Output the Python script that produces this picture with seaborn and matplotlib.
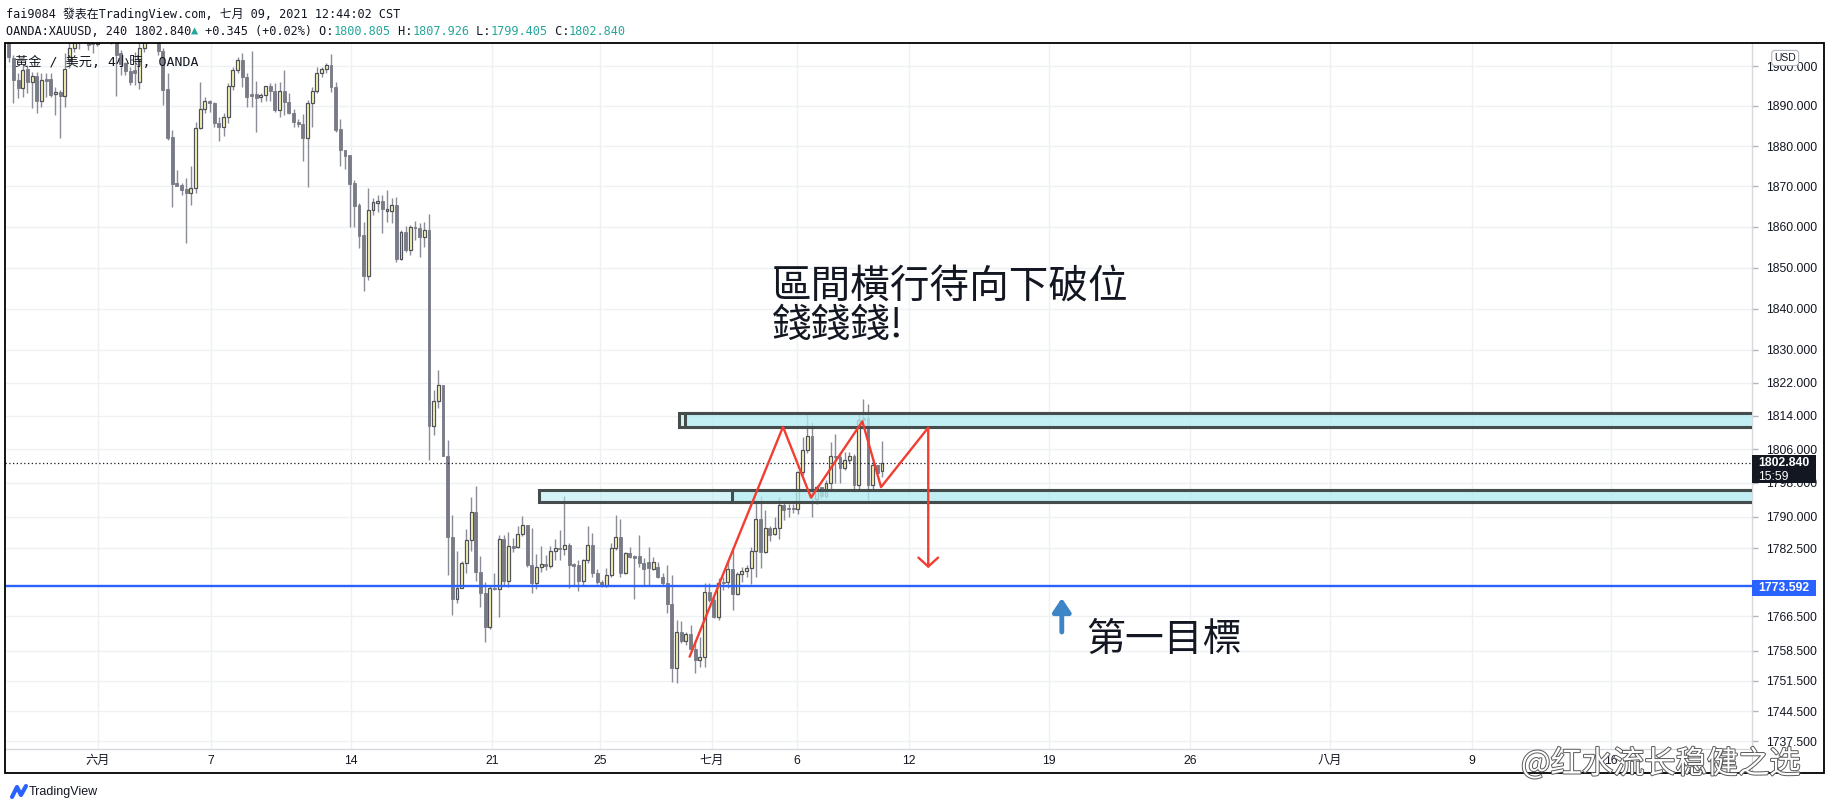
import numpy as np
import pandas as pd
import matplotlib
matplotlib.use('Agg')
import matplotlib.pyplot as plt
import matplotlib.patheffects as pe
from matplotlib.patches import Rectangle
from matplotlib.lines import Line2D
from matplotlib.ticker import FixedLocator, NullLocator, FormatStrFormatter
import seaborn as sns

# XAUUSD 4h bars (bar 0 = late May 2021, last bar = 9 Jul)
opens = [1906.0, 1902.1, 1896.5, 1894.4, 1899.2, 1896.1, 1897.5, 1891.3, 1896.8, 1896.8,
         1892.9, 1893.4, 1892.6, 1901.5, 1904.6, 1907.0, 1908.5, 1910.5, 1907.5, 1905.5,
         1911.0, 1914.0, 1910.5, 1908.0, 1903.4, 1900.7, 1898.9, 1899.0, 1896.1, 1904.5,
         1907.5, 1910.0, 1908.0, 1903.7, 1894.2, 1882.3, 1870.9, 1870.3, 1869.3, 1868.3,
         1869.5, 1884.4, 1889.2, 1891.2, 1890.7, 1885.7, 1884.7, 1887.2, 1895.0, 1899.0,
         1901.5, 1897.2, 1892.9, 1892.9, 1892.2, 1892.8, 1894.9, 1893.8, 1889.0, 1893.8,
         1891.1, 1888.3, 1886.1, 1885.4, 1882.1, 1890.8, 1893.8, 1898.2, 1899.4, 1900.3,
         1894.8, 1884.2, 1879.0, 1877.8, 1870.8, 1865.4, 1858.0, 1847.9, 1864.2, 1866.0,
         1866.4, 1863.8, 1863.8, 1865.4, 1852.2, 1858.8, 1854.4, 1860.0, 1859.8, 1857.6,
         1859.2, 1811.7, 1817.6, 1821.4, 1804.5, 1785.2, 1770.5, 1773.2, 1779.0, 1784.5,
         1791.1, 1777.0, 1771.9, 1764.0, 1773.2, 1772.9, 1784.7, 1774.9, 1783.0, 1782.8,
         1785.9, 1788.0, 1778.6, 1774.4, 1778.0, 1778.8, 1778.4, 1781.9, 1782.5, 1782.3,
         1783.2, 1778.8, 1778.6, 1774.9, 1779.8, 1783.3, 1776.6, 1774.6, 1773.6, 1776.2,
         1782.5, 1785.1, 1776.6, 1781.3, 1780.8, 1780.7, 1779.1, 1779.3, 1777.6, 1778.2,
         1775.7, 1774.4, 1769.3, 1754.4, 1762.8, 1760.8, 1762.3, 1758.8, 1756.4, 1757.0,
         1772.2, 1770.4, 1766.3, 1774.6, 1774.5, 1777.6, 1771.7, 1776.4, 1777.2, 1777.8,
         1781.9, 1789.4, 1781.7, 1787.2, 1785.8, 1787.2, 1792.7, 1792.0, 1792.0, 1791.7,
         1800.7, 1805.9, 1809.2, 1794.1, 1797.0, 1794.8, 1797.9, 1804.4, 1804.1, 1801.5,
         1803.5, 1804.4, 1797.5, 1813.4, 1813.4, 1797.5, 1802.3, 1800.805]
highs = [1908.5, 1902.8, 1898.3, 1900.3, 1900.3, 1898.6, 1898.6, 1898.3, 1898.4, 1898.3,
         1894.8, 1894.0, 1903.2, 1906.8, 1909.0, 1910.0, 1912.5, 1912.0, 1910.0, 1913.0,
         1916.0, 1916.5, 1913.0, 1913.0, 1904.1, 1901.1, 1899.9, 1903.6, 1906.0, 1909.5,
         1912.0, 1913.0, 1909.5, 1904.6, 1898.3, 1884.0, 1874.0, 1870.8, 1872.1, 1875.0,
         1886.1, 1896.0, 1892.3, 1891.5, 1891.1, 1887.2, 1888.3, 1895.7, 1899.9, 1902.2,
         1903.2, 1898.4, 1903.8, 1896.3, 1893.3, 1895.0, 1895.7, 1895.7, 1896.0, 1899.0,
         1893.2, 1889.2, 1886.7, 1888.0, 1891.5, 1894.8, 1899.9, 1899.9, 1900.7, 1903.0,
         1896.1, 1886.8, 1879.0, 1877.8, 1871.6, 1866.0, 1861.3, 1869.5, 1867.0, 1867.9,
         1867.9, 1869.1, 1867.0, 1867.4, 1859.2, 1860.3, 1860.4, 1861.5, 1860.9, 1861.3,
         1863.2, 1820.3, 1825.1, 1821.4, 1808.2, 1790.4, 1781.9, 1779.5, 1787.1, 1794.7,
         1797.3, 1780.7, 1774.6, 1773.6, 1776.7, 1785.7, 1785.7, 1786.4, 1784.9, 1787.7,
         1790.2, 1788.0, 1787.2, 1781.2, 1783.0, 1780.9, 1783.0, 1784.6, 1786.8, 1794.9,
         1783.8, 1779.0, 1779.8, 1779.9, 1787.8, 1786.0, 1777.6, 1775.0, 1777.8, 1783.7,
         1790.4, 1789.4, 1781.7, 1782.8, 1780.9, 1785.7, 1780.1, 1782.8, 1780.5, 1779.3,
         1776.6, 1778.6, 1776.2, 1765.7, 1765.5, 1762.9, 1764.5, 1761.0, 1761.8, 1774.3,
         1774.3, 1771.1, 1775.4, 1775.8, 1779.8, 1782.8, 1777.0, 1778.2, 1778.6, 1782.8,
         1793.9, 1794.9, 1791.6, 1787.8, 1790.0, 1794.7, 1793.5, 1793.1, 1793.1, 1800.9,
         1809.0, 1815.0, 1812.6, 1797.5, 1797.1, 1798.7, 1807.8, 1809.8, 1805.4, 1805.4,
         1805.4, 1804.9, 1815.0, 1818.2, 1816.9, 1803.6, 1802.3, 1807.926]
lows = [1901.0, 1890.8, 1892.0, 1892.3, 1893.3, 1889.5, 1888.2, 1889.8, 1892.3, 1892.3,
        1887.7, 1882.0, 1889.8, 1899.5, 1903.6, 1904.4, 1906.0, 1904.1, 1903.3, 1905.0,
        1908.0, 1909.0, 1905.5, 1892.4, 1897.8, 1897.8, 1895.3, 1895.3, 1894.2, 1903.5,
        1906.0, 1906.5, 1902.8, 1890.3, 1881.5, 1864.9, 1870.0, 1867.9, 1856.0, 1865.4,
        1868.3, 1884.2, 1888.2, 1888.6, 1884.7, 1881.3, 1882.5, 1885.8, 1894.0, 1898.2,
        1894.8, 1889.7, 1889.8, 1883.6, 1891.1, 1891.3, 1891.3, 1888.6, 1887.2, 1887.7,
        1888.0, 1884.8, 1884.7, 1876.4, 1869.8, 1884.7, 1893.3, 1897.2, 1898.2, 1893.6,
        1883.6, 1875.0, 1874.2, 1860.0, 1860.0, 1854.7, 1844.3, 1847.0, 1862.9, 1863.7,
        1858.6, 1861.3, 1860.9, 1851.4, 1851.9, 1853.9, 1853.1, 1856.8, 1852.7, 1855.0,
        1803.5, 1809.4, 1815.9, 1804.3, 1776.1, 1766.8, 1769.6, 1773.2, 1776.7, 1781.9,
        1774.8, 1768.7, 1760.6, 1763.6, 1772.7, 1766.4, 1773.8, 1773.4, 1781.7, 1782.5,
        1785.3, 1778.2, 1772.1, 1772.9, 1777.0, 1777.4, 1777.8, 1779.8, 1779.8, 1780.9,
        1773.2, 1773.9, 1772.5, 1773.6, 1779.1, 1775.8, 1774.1, 1773.4, 1773.4, 1775.7,
        1782.1, 1775.8, 1776.4, 1780.1, 1770.6, 1778.2, 1773.6, 1773.6, 1777.4, 1775.4,
        1773.6, 1767.4, 1751.3, 1751.1, 1760.2, 1759.8, 1758.7, 1753.3, 1754.8, 1754.7,
        1769.9, 1766.1, 1765.7, 1772.7, 1773.1, 1768.0, 1771.5, 1774.6, 1775.8, 1774.1,
        1775.8, 1777.8, 1781.5, 1784.3, 1785.6, 1784.6, 1789.2, 1789.8, 1790.8, 1790.6,
        1799.9, 1805.2, 1790.0, 1793.0, 1794.4, 1794.4, 1796.6, 1797.9, 1797.9, 1801.1,
        1802.7, 1795.9, 1796.3, 1812.6, 1793.9, 1796.3, 1800.3, 1799.405]
closes = [1902.3, 1896.5, 1894.4, 1899.0, 1896.1, 1897.5, 1891.3, 1896.5, 1896.3, 1892.8,
          1893.4, 1892.6, 1899.4, 1904.6, 1907.5, 1908.5, 1911.0, 1905.2, 1905.5, 1911.0,
          1914.0, 1910.5, 1911.5, 1902.8, 1900.5, 1898.9, 1896.1, 1898.4, 1904.5, 1907.5,
          1910.0, 1908.0, 1903.7, 1894.0, 1882.1, 1870.6, 1870.1, 1869.1, 1868.3, 1869.5,
          1884.4, 1889.2, 1891.2, 1890.7, 1885.7, 1884.7, 1887.2, 1895.0, 1899.0, 1901.5,
          1897.2, 1892.3, 1892.5, 1892.1, 1892.8, 1894.9, 1893.8, 1889.0, 1893.8, 1891.1,
          1888.3, 1885.9, 1885.4, 1882.1, 1890.8, 1893.8, 1898.2, 1899.4, 1900.3, 1894.8,
          1884.0, 1878.9, 1877.5, 1870.6, 1865.2, 1857.8, 1848.0, 1864.2, 1866.2, 1866.4,
          1864.3, 1864.4, 1865.4, 1852.2, 1858.8, 1854.4, 1859.9, 1859.8, 1857.6, 1859.2,
          1811.7, 1817.6, 1821.4, 1804.5, 1785.2, 1770.5, 1773.2, 1779.0, 1784.5, 1791.1,
          1777.0, 1771.9, 1764.0, 1773.2, 1772.9, 1784.7, 1774.9, 1783.0, 1782.5, 1785.9,
          1788.0, 1778.6, 1774.4, 1778.0, 1778.7, 1778.3, 1781.9, 1782.5, 1782.3, 1783.2,
          1778.6, 1778.3, 1774.9, 1779.8, 1783.3, 1776.6, 1774.6, 1773.6, 1776.2, 1782.5,
          1785.1, 1776.6, 1781.3, 1780.4, 1780.3, 1779.0, 1777.6, 1777.8, 1779.3, 1775.7,
          1774.4, 1769.3, 1754.4, 1762.8, 1760.8, 1762.3, 1758.8, 1756.4, 1757.0, 1772.2,
          1770.4, 1766.3, 1774.3, 1774.3, 1777.6, 1771.7, 1776.4, 1777.2, 1777.8, 1781.9,
          1789.4, 1781.7, 1787.2, 1785.6, 1787.2, 1792.7, 1791.6, 1791.7, 1791.7, 1800.7,
          1805.9, 1809.2, 1796.3, 1797.0, 1794.8, 1797.9, 1804.4, 1804.1, 1801.5, 1803.5,
          1804.4, 1797.5, 1813.0, 1813.0, 1797.5, 1802.3, 1800.4, 1802.84]

last_price = 1802.84
target_price = 1773.592

price_ticks = [1900, 1890, 1880, 1870, 1860, 1850, 1840, 1830, 1822, 1814, 1806, 1798,
               1790, 1782.5, 1766.5, 1758.5, 1751.5, 1744.5, 1737.5]
date_pos = [19.1, 43.3, 73.3, 103.5, 126.6, 150.6, 168.8, 192.8, 222.8, 252.9, 282.9, 313.3, 343.1]
date_labels = ['六月', '7', '14', '21', '25', '七月', '6', '12', '19', '26', '八月', '9', '16']

# drawings on the chart (bar index, price)
zone_hi = [143.5, 144.8, 1811.4, 1814.6]   # start, divider, bottom, top
zone_lo = [113.6, 154.8, 1793.5, 1796.3]
zig_x = [145.8, 165.8, 171.8, 182.8, 186.8, 196.9, 196.9]
zig_y = [1757.1, 1811.4, 1794.5, 1812.7, 1797.0, 1811.2, 1778.2]

W, H = 1828, 811
sns.set_theme(style='white')
plt.rcParams['font.family'] = ['Liberation Sans', 'Noto Sans CJK TC', 'DejaVu Sans']
plt.rcParams['axes.unicode_minus'] = False

fig = plt.figure(figsize=(W / 100, H / 100), dpi=100)
fig.patch.set_facecolor('white')
ax = fig.add_axes([5 / W, (H - 749) / H, 1747 / W, 706 / H])

bars = pd.DataFrame({'open': opens, 'high': highs, 'low': lows, 'close': closes})
bars['i'] = np.arange(len(bars))
bars['lo'] = bars[['open', 'close']].min(axis=1)
bars['body'] = (bars[['open', 'close']].max(axis=1) - bars['lo']).clip(lower=0.15)
up = bars[bars['close'] >= bars['open']]
dn = bars[bars['close'] < bars['open']]

ax.vlines(bars['i'], bars['low'], bars['high'], color='#8a8d96', lw=1, zorder=2)
ax.bar(dn['i'], dn['body'], bottom=dn['lo'], width=0.62, color='#787b86',
       edgecolor='#787b86', lw=0.6, zorder=3)
ax.bar(up['i'], up['body'], bottom=up['lo'], width=0.62, color='#fffab8',
       edgecolor='#4f525b', lw=0.9, zorder=3)

ax.set_yscale('log')
ax.set_ylim(1735.76, 1905.83)
ax.set_xlim(-0.8, 373.3)

# levels
ax.axhline(last_price, color='#131722', ls=(0, (1, 2)), lw=0.9, zorder=4)
ax.axhline(target_price, color='#2962ff', lw=1.7, zorder=4)

# zones
for z in (zone_hi, zone_lo):
    for x0 in (z[0], z[1]):
        ax.add_patch(Rectangle((x0, z[2]), 400 - x0, z[3] - z[2],
                               fc=(0.70, 0.92, 0.95, 0.55), ec='#454c4c', lw=2.2, zorder=5))

# red path + arrow
sns.lineplot(x=zig_x, y=zig_y, sort=False, estimator=None, color='#f23d32', lw=1.7,
             ax=ax, zorder=6)
ax.plot([zig_x[-1] - 2.1, zig_x[-1], zig_x[-1] + 2.1], [1780.3, zig_y[-1], 1780.3],
        color='#f23d32', lw=1.7, zorder=6)

# text notes
ax.text(163.4, 1845.25, '區間橫行待向下破位', fontsize=28.5, color='#131722',
        va='center', ha='left', family=['Noto Sans CJK TC'], zorder=7)
ax.text(163.4, 1835.74, '錢錢錢!', fontsize=28.5, color='#131722',
        va='center', ha='left', family=['Noto Sans CJK TC'], zorder=7)
ax.text(230.7, 1761.0, '第一目標', fontsize=28, color='#131722',
        va='center', ha='left', family=['Noto Sans CJK TC'], zorder=7)
ax.annotate('', xy=(225.5, 1770.8), xytext=(225.5, 1762.86),
            arrowprops=dict(arrowstyle='-|>,head_length=0.45,head_width=0.3', lw=3.5,
                            color='#3d85c6', mutation_scale=18, shrinkA=0, shrinkB=0), zorder=7)

ax.text(0.0057, 0.973, '黃金 / 美元, 4小時, OANDA', transform=ax.transAxes, fontsize=9.5,
        color='#131722', va='center', ha='left', family=['DejaVu Sans Mono', 'Noto Sans CJK TC'],
        zorder=8)

# axes look
ax.yaxis.set_major_locator(FixedLocator(price_ticks))
ax.yaxis.set_minor_locator(NullLocator())
ax.yaxis.set_major_formatter(FormatStrFormatter('%.3f'))
ax.yaxis.tick_right()
ax.tick_params(axis='y', which='major', right=True, left=False, length=4, width=1,
               color='#b2b5be', pad=6, labelsize=8.8, labelcolor='#131722')
ax.set_xticks(date_pos, date_labels)
ax.tick_params(axis='x', length=0, pad=4, labelsize=8.8, labelcolor='#131722')
ax.grid(True, which='major', color='#eef0f4', lw=1)
ax.set_axisbelow(True)
for s in ('top', 'left'):
    ax.spines[s].set_visible(False)
for s in ('right', 'bottom'):
    ax.spines[s].set_color('#d6d8de')
    ax.spines[s].set_linewidth(1)
ax.set_xlabel('')
ax.set_ylabel('')

# price labels on the scale
ytr = ax.get_yaxis_transform()
ax.add_patch(Rectangle((1.0, 1798.0), 64 / 1747, 6.7, transform=ytr, fc='#131722',
                       ec='none', clip_on=False, zorder=9))
ax.text(1.0 + 6 / 1747, last_price, f'{last_price:.3f}', transform=ytr, color='white',
        fontsize=8.8, fontweight='bold', va='center', ha='left', clip_on=False, zorder=10)
ax.text(1.0 + 6 / 1747, 1799.41, '15:59', transform=ytr, color='white',
        fontsize=8.8, va='center', ha='left', clip_on=False, zorder=10)
ax.add_patch(Rectangle((1.0, 1771.28), 64 / 1747, 3.75, transform=ytr, fc='#2962ff',
                       ec='none', clip_on=False, zorder=9))
ax.text(1.0 + 6 / 1747, 1773.2, f'{target_price:.3f}', transform=ytr, color='white',
        fontsize=8.8, fontweight='bold', va='center', ha='left', clip_on=False, zorder=10)
ax.text(1.019, 1902.05, 'USD', transform=ytr, fontsize=7.5, color='#131722', va='center',
        ha='center', clip_on=False, zorder=10,
        bbox=dict(boxstyle='round,pad=0.25,rounding_size=0.3', fc='white', ec='#b2b5be', lw=0.8))

# outer frame and separators
fig.add_artist(Rectangle((5 / W, (H - 773) / H), 1819 / W, 730 / H, transform=fig.transFigure,
                         fill=False, ec='#000000', lw=1.3))
fig.add_artist(Line2D([1752 / W, 1752 / W], [(H - 773) / H, (H - 749) / H],
                      transform=fig.transFigure, color='#d6d8de', lw=1))

# header
hdr_family = ['DejaVu Sans Mono', 'Noto Sans CJK TC']
fig.text(6 / W, 1 - 14 / H, 'fai9084 發表在TradingView.com, 七月 09, 2021 12:44:02 CST',
         va='center', ha='left', family=hdr_family, fontsize=8.6, color='#131722')
teal = '#26a69a'
parts = [('OANDA:XAUUSD, 240 1802.840', '#131722'), ('▲', teal), (' +0.345 (+0.02%) O:', '#131722'),
         ('1800.805', teal), (' H:', '#131722'), ('1807.926', teal), (' L:', '#131722'),
         ('1799.405', teal), (' C:', '#131722'), ('1802.840', teal)]
prev = fig.text(6 / W, 1 - 31.5 / H, parts[0][0], va='center', ha='left',
                family=hdr_family, fontsize=8.6, color=parts[0][1])
for txt, col in parts[1:]:
    prev = ax.annotate(txt, xy=(1, 0.5), xycoords=prev, va='center', ha='left',
                       family=hdr_family, fontsize=8.6, color=col, annotation_clip=False)

# footer logo and watermark
fig.add_artist(Line2D([12 / W, 17 / W, 21 / W, 26 / W], [1 - 797 / H, 1 - 787 / H, 1 - 795 / H, 1 - 786 / H],
                      transform=fig.transFigure, color='#2962ff', lw=3, solid_capstyle='round'))
fig.text(29 / W, 1 - 792 / H, 'TradingView', fontsize=9, color='#131722', va='center', ha='left')
fig.text(1521 / W, 1 - 764 / H, '@红水流长稳健之选', fontsize=22.5, color='white', va='center',
         ha='left', family=['Noto Sans CJK SC'],
         path_effects=[pe.withStroke(linewidth=1.4, foreground='#5a5a5a')])

fig.savefig('out.png', dpi=100)
